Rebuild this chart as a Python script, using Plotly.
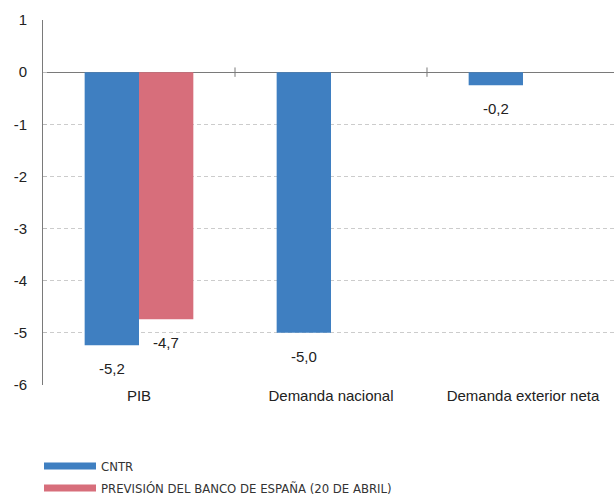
import plotly.graph_objects as go

# Chart data
categories = ["PIB", "Demanda nacional", "Demanda exterior neta"]
cntr = [-5.24, -5.0, -0.25]
cntr_labels = ["-5,2", "-5,0", "-0,2"]
bde = [-4.74, None, None]
bde_labels = ["-4,7", "", ""]
series_names = ["CNTR", "PREVISIÓN DEL BANCO DE ESPAÑA (20 DE ABRIL)"]
y_ticks = [1, 0, -1, -2, -3, -4, -5, -6]

BLUE = "#3f7fc1"
PINK = "#d76e7b"
AXIS = "#7a7a7a"
FONT = "Liberation Sans, Arial, sans-serif"
NARROW = "Liberation Sans Narrow, DejaVu Sans Condensed, Arial Narrow, sans-serif"

fig = go.Figure()
fig.add_bar(x=categories, y=cntr, marker=dict(color=BLUE, line_width=0),
            name=series_names[0], showlegend=False)
fig.add_bar(x=categories, y=bde, marker=dict(color=PINK, line_width=0),
            name=series_names[1], showlegend=False)

# value labels below each bar end
BAR_PX = 27
for i, (v, t) in enumerate(zip(cntr, cntr_labels)):
    fig.add_annotation(x=i, y=v, text=t, showarrow=False, xshift=-BAR_PX,
                       yanchor="top", yshift=-13,
                       font=dict(family=FONT, size=15, color="#222"))
for i, (v, t) in enumerate(zip(bde, bde_labels)):
    if v is None:
        continue
    fig.add_annotation(x=i, y=v, text=t, showarrow=False, xshift=BAR_PX,
                       yanchor="top", yshift=-13,
                       font=dict(family=FONT, size=15, color="#222"))

# category separators on the zero line
for b in [0.5, 1.5]:
    fig.add_shape(type="line", xref="x", yref="y", x0=b, x1=b, y0=-0.09, y1=0.09,
                  line=dict(color=AXIS, width=1))

# legend drawn as swatches with labels
for k, (name, col) in enumerate(zip(series_names, [BLUE, PINK])):
    yc = 466 + 22 * k
    fig.add_shape(type="rect", xref="paper", yref="paper",
                  x0=(44 - 43) / 571, x1=(96 - 43) / 571,
                  y0=(385 - (yc + 3.5)) / 365, y1=(385 - (yc - 3.5)) / 365,
                  fillcolor=col, line_width=0)
    fig.add_annotation(xref="paper", yref="paper", x=(99 - 43) / 571,
                       y=(385 - yc) / 365, text=name, showarrow=False,
                       xanchor="left", yanchor="middle",
                       font=dict(family=NARROW, size=13, color="#333"))

fig.update_layout(
    width=614, height=495,
    margin=dict(l=43, r=0, t=20, b=110),
    paper_bgcolor="white", plot_bgcolor="white",
    barmode="group", bargap=0.434, bargroupgap=0,
    font=dict(family=FONT, size=15, color="#222"),
    xaxis=dict(range=[-0.5, 2.474], showgrid=False, showline=False,
               ticks="", tickfont=dict(size=15, color="#222")),
    yaxis=dict(range=[-6, 1], tickvals=y_ticks, ticktext=[str(v) for v in y_ticks],
               showgrid=True, gridcolor="#cccccc", griddash="4px,3px", gridwidth=1,
               zeroline=True, zerolinecolor=AXIS, zerolinewidth=1,
               showline=True, linecolor=AXIS, linewidth=1,
               ticks="inside", ticklen=4, tickcolor="#bbbbbb",
               ticklabelstandoff=12,
               tickfont=dict(size=15, color="#222")),
)

fig.write_html("out.html")
